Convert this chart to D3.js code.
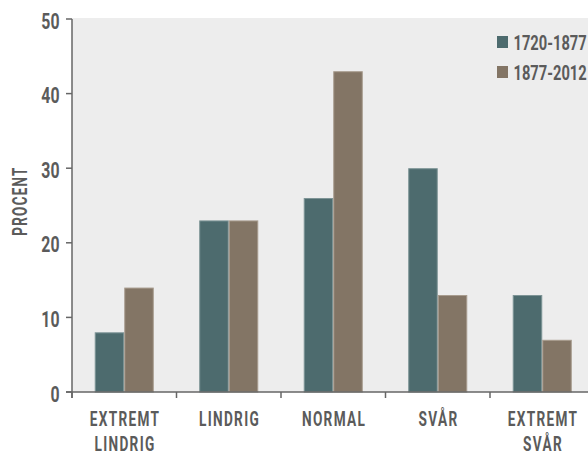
<!DOCTYPE html>
<html><head><meta charset="utf-8">
<script src="https://cdn.jsdelivr.net/npm/d3@7"></script>
<style>
html,body{margin:0;padding:0;background:#fff;}
svg text{font-family:"Roboto","Liberation Sans",sans-serif;fill:#5b5b5b;font-weight:bold;}
</style></head>
<body><svg id="c" width="588" height="453"></svg>
<script>
const categories = [["EXTREMT","LINDRIG"],["LINDRIG"],["NORMAL"],["SVÅR"],["EXTREMT","SVÅR"]];
const categoryKeys = ["EXTREMT LINDRIG","LINDRIG","NORMAL","SVÅR","EXTREMT SVÅR"];
const seriesNames = ["1720-1877","1877-2012"];
const series1720 = [8, 23, 26, 30, 13];
const series1877 = [14, 23, 43, 13, 7];
const yTicks = [0, 10, 20, 30, 40, 50];
const colors = ["#4d6b6e", "#837565"];

const svg = d3.select("#c");
const mLeft = 72, mTop = 18, mBottom = 392, step = 104.5;
const mRight = mLeft + step * categoryKeys.length;

function narrowText(parent, x, y, txt, size, sx, anchor, ls) {
  return parent.append("text")
    .attr("transform", `translate(${x},${y}) scale(${sx},1)`)
    .attr("text-anchor", anchor).attr("font-size", size)
    .attr("letter-spacing", ls || 0).text(txt);
}

svg.append("rect").attr("x", mLeft).attr("y", mTop).attr("width", 588 - mLeft).attr("height", mBottom - mTop).attr("fill", "#ededed");

const x = d3.scaleBand().domain(categoryKeys).range([mLeft, mRight]).paddingInner(0.435).paddingOuter(0.2175);
const xs = d3.scaleBand().domain(seriesNames).range([0, x.bandwidth()]);
const y = d3.scaleLinear().domain([0, 50]).range([mBottom, mTop + 1]);

const data = categoryKeys.map((k, i) => ({k, vals: [series1720[i], series1877[i]]}));
const g = svg.append("g").selectAll("g").data(data).join("g").attr("transform", d => `translate(${x(d.k)},0)`);
g.selectAll("rect").data(d => d.vals.map((v, j) => ({v, s: seriesNames[j], j})))
  .join("rect")
  .attr("x", d => xs(d.s) + 0.5)
  .attr("y", d => y(d.v) + 0.5)
  .attr("width", xs.bandwidth() - 1)
  .attr("height", d => y(0) - y(d.v) - 0.5)
  .attr("fill", d => colors[d.j])
  .attr("stroke", d => d.j === 0 ? "#7d9496" : "#a89c8e")
  .attr("stroke-width", 1);

// y axis
const ya = svg.append("g");
ya.append("line").attr("x1", mLeft).attr("x2", mLeft).attr("y1", y(50)).attr("y2", mBottom + 6).attr("stroke", "#666").attr("stroke-width", 1.5);
ya.selectAll("line.t").data(yTicks).join("line").attr("class","t")
  .attr("x1", mLeft - 6).attr("x2", mLeft).attr("y1", d => y(d)).attr("y2", d => y(d)).attr("stroke", "#666").attr("stroke-width", 1.5);
yTicks.forEach(t => narrowText(ya, 59.5, y(t) + 9.5, t, 22, 0.72, "end"));

// x axis
const xa = svg.append("g");
xa.append("line").attr("x1", mLeft - 6).attr("x2", 588).attr("y1", mBottom).attr("y2", mBottom).attr("stroke", "#666").attr("stroke-width", 1.5);
xa.selectAll("line.t").data(categoryKeys).join("line").attr("class","t")
  .attr("x1", d => x(d) - x.step() * x.paddingOuter()).attr("x2", d => x(d) - x.step() * x.paddingOuter())
  .attr("y1", mBottom).attr("y2", mBottom + 6).attr("stroke", "#666").attr("stroke-width", 1.5);
categoryKeys.forEach((k, i) => {
  categories[i].forEach((line, li) => {
    narrowText(xa, x(k) + x.bandwidth() / 2 + 0.8, 425.5 + li * 25, line, 21, 0.65, "middle", 2);
  });
});

// y label
const yl = svg.append("g").attr("transform", "translate(27,202) rotate(-90)");
narrowText(yl, 1, 0, "PROCENT", 21, 0.64, "middle", 2);

// legend
const lg = svg.append("g").selectAll("g").data(seriesNames).join("g").attr("transform", (d, i) => `translate(497,${36 + i * 30})`);
lg.append("rect").attr("width", 11).attr("height", 12).attr("fill", (d, i) => colors[i]);
lg.each(function(d) { narrowText(d3.select(this), 16.5, 14, d, 21, 0.7, "start"); });
</script></body></html>
